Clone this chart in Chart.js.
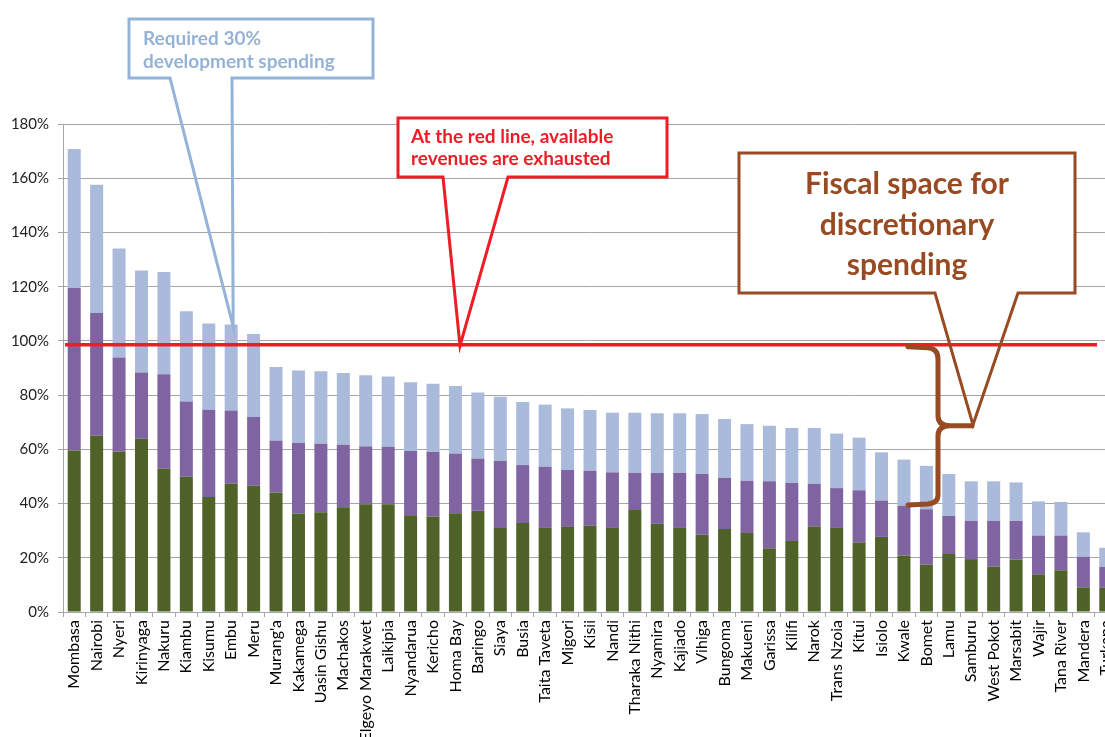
<!DOCTYPE html>
<html>
<head>
<meta charset="utf-8">
<script src="https://cdn.jsdelivr.net/npm/chart.js@4.4.0/dist/chart.umd.min.js"></script>
<style>
  html, body { margin: 0; padding: 0; background: #fff; overflow: hidden; }
  canvas { display: block; }
</style>
</head>
<body>
<canvas id="chart" width="1121" height="737"></canvas>
<script>
const counties = [
  "Mombasa", "Nairobi", "Nyeri", "Kirinyaga", "Nakuru", "Kiambu", "Kisumu", "Embu", "Meru",
  "Murang'a", "Kakamega", "Uasin Gishu", "Machakos", "Elgeyo Marakwet", "Laikipia", "Nyandarua",
  "Kericho", "Homa Bay", "Baringo", "Siaya", "Busia", "Taita Taveta", "Migori", "Kisii", "Nandi",
  "Tharaka Nithi", "Nyamira", "Kajiado", "Vihiga", "Bungoma", "Makueni", "Garissa", "Kilifi",
  "Narok", "Trans Nzoia", "Kitui", "Isiolo", "Kwale", "Bomet", "Lamu", "Samburu", "West Pokot",
  "Marsabit", "Wajir", "Tana River", "Mandera", "Turkana"
];

// share of available revenue, in percent (bottom / middle / top segment)
const personnel = [
  59.6, 65.0, 59.1, 63.9, 52.9, 49.9, 42.4, 47.3, 46.6, 44.1, 36.3, 36.8, 38.6, 39.7, 39.7, 35.4,
  35.2, 36.4, 37.3, 31.0, 32.8, 31.0, 31.4, 31.8, 31.0, 37.6, 32.5, 31.0, 28.5, 30.6, 29.1, 23.5,
  26.2, 31.5, 31.0, 25.6, 27.7, 20.8, 17.5, 21.4, 19.5, 16.8, 19.3, 13.9, 15.4, 9.1, 8.9
];
const operations = [
  59.9, 45.3, 34.8, 24.4, 34.8, 27.7, 32.2, 27.0, 25.3, 19.1, 26.0, 25.3, 23.1, 21.4, 21.2, 24.0,
  23.8, 22.0, 19.3, 24.7, 21.4, 22.6, 21.0, 20.3, 20.5, 13.7, 18.8, 20.3, 22.4, 18.9, 19.3, 24.7,
  21.4, 15.8, 14.7, 19.3, 13.4, 18.4, 20.4, 14.0, 14.1, 16.8, 14.3, 14.3, 12.8, 11.3, 7.7
];
const development = [
  51.3, 47.3, 40.2, 37.7, 37.7, 33.3, 31.8, 31.7, 30.6, 27.2, 26.8, 26.7, 26.5, 26.2, 26.0, 25.3,
  25.2, 25.0, 24.4, 23.7, 23.3, 22.9, 22.7, 22.4, 22.0, 22.2, 22.0, 22.0, 22.1, 21.7, 20.9, 20.5,
  20.3, 20.6, 20.1, 19.4, 17.8, 17.0, 16.0, 15.5, 14.6, 14.6, 14.2, 12.6, 12.4, 9.0, 7.1
];

const revenueLine = 98.6;
const yMax = 180;
const yStep = 20;

const BLUE = "#95b3d7";
const RED = "#ee1c25";
const BROWN = "#984a22";

function callout(ctx, o) {
  const [l, t, r, b] = o.box;
  ctx.fillStyle = "#fff";
  ctx.fillRect(l, t, r - l, b - t);
  ctx.beginPath();
  ctx.moveTo(l, t);
  ctx.lineTo(r, t);
  ctx.lineTo(r, b);
  ctx.lineTo(o.base[1], b);
  ctx.lineTo(o.tip[0], o.tip[1]);
  ctx.lineTo(o.base[0], b);
  ctx.lineTo(l, b);
  ctx.closePath();
  ctx.strokeStyle = o.color;
  ctx.lineWidth = o.width;
  ctx.lineJoin = "miter";
  ctx.stroke();

  ctx.fillStyle = o.color;
  ctx.font = o.font;
  ctx.textBaseline = "middle";
  ctx.textAlign = o.align;
  o.lines.forEach((s, i) => ctx.fillText(s, o.textX, o.lineY[i]));
}

const annotations = {
  id: "annotations",
  afterDatasetsDraw(chart) {
    const { ctx, chartArea, scales: { x, y } } = chart;
    const redY = y.getPixelForValue(revenueLine);
    ctx.save();

    // revenue line
    ctx.strokeStyle = RED;
    ctx.lineWidth = 3.5;
    ctx.beginPath();
    ctx.moveTo(chartArea.left + 2, redY);
    ctx.lineTo(1097, redY);
    ctx.stroke();

    // curly brace between the red line and Bomet's bars
    const top = redY + 2, bottom = y.getPixelForValue(39.5);
    const mid = (top + bottom) / 2;
    const xv = 938, xl = 908, xr = 972;
    ctx.strokeStyle = BROWN;
    ctx.lineWidth = 5;
    ctx.lineCap = "round";
    ctx.lineJoin = "round";
    ctx.beginPath();
    ctx.moveTo(xl, top);
    ctx.lineTo(xv - 10, top + 1);
    ctx.quadraticCurveTo(xv, top + 2, xv, top + 12);
    ctx.lineTo(xv, mid - 10);
    ctx.quadraticCurveTo(xv, mid, xv + 12, mid);
    ctx.lineTo(xr, mid);
    ctx.moveTo(xv + 12, mid);
    ctx.quadraticCurveTo(xv, mid, xv, mid + 10);
    ctx.lineTo(xv, bottom - 10);
    ctx.quadraticCurveTo(xv, bottom - 2, xv - 10, bottom - 1);
    ctx.lineTo(xl, bottom);
    ctx.stroke();
    ctx.lineCap = "butt";

    const embuTotal = personnel[7] + operations[7] + development[7];
    callout(ctx, {
      box: [129, 19, 373, 78], base: [170, 232],
      tip: [x.getPixelForValue(7) + 2, y.getPixelForValue(embuTotal) + 2],
      color: BLUE, width: 3, font: "bold 19px Lato", align: "left",
      lines: ["Required 30%", "development spending"], textX: 143, lineY: [39, 62]
    });
    callout(ctx, {
      box: [398, 118, 667, 177], base: [443, 508],
      tip: [460, redY + 1],
      color: RED, width: 3, font: "bold 19px Lato", align: "left",
      lines: ["At the red line, available", "revenues are exhausted"], textX: 411, lineY: [137, 159]
    });
    callout(ctx, {
      box: [739, 153, 1075, 293], base: [935, 1018],
      tip: [xr + 1, mid - 1],
      color: BROWN, width: 3, font: "bold 30px Lato", align: "center",
      lines: ["Fiscal space for", "discretionary", "spending"], textX: 907, lineY: [184, 225, 265]
    });
    ctx.restore();
  }
};

new Chart(document.getElementById("chart"), {
  type: "bar",
  data: {
    labels: counties,
    datasets: [
      { label: "Personnel", data: personnel, backgroundColor: "#4f6228" },
      { label: "Operations and maintenance", data: operations, backgroundColor: "#8064a2" },
      { label: "Development", data: development, backgroundColor: "#aabadb" }
    ]
  },
  options: {
    responsive: false,
    animation: false,
    layout: { padding: { top: 124, right: 4, left: 0, bottom: 0 } },
    datasets: { bar: { categoryPercentage: 1, barPercentage: 0.58, borderWidth: 0 } },
    plugins: { legend: { display: false }, tooltip: { enabled: false } },
    scales: {
      x: {
        stacked: true,
        afterFit(scale) {
          scale.height = 125;
          scale.paddingLeft = 0;
          scale.paddingRight = 0;
        },
        grid: { offset: true, drawOnChartArea: false, drawTicks: true, tickLength: 5, color: "#a6a6a6" },
        border: { color: "#a6a6a6", width: 1 },
        ticks: {
          autoSkip: false, maxRotation: 90, minRotation: 90, padding: 3,
          color: "#000", font: { family: "Lato", size: 16 }
        }
      },
      y: {
        stacked: true,
        min: 0, max: yMax,
        afterFit(scale) { scale.width = 63; },
        grid: { color: "#a6a6a6", tickLength: 5 },
        border: { color: "#a6a6a6", width: 1 },
        ticks: {
          stepSize: yStep, padding: 9, color: "#222",
          font: { family: "Lato", size: 15 },
          callback: v => v + "%"
        }
      }
    }
  },
  plugins: [annotations]
});
</script>
</body>
</html>
